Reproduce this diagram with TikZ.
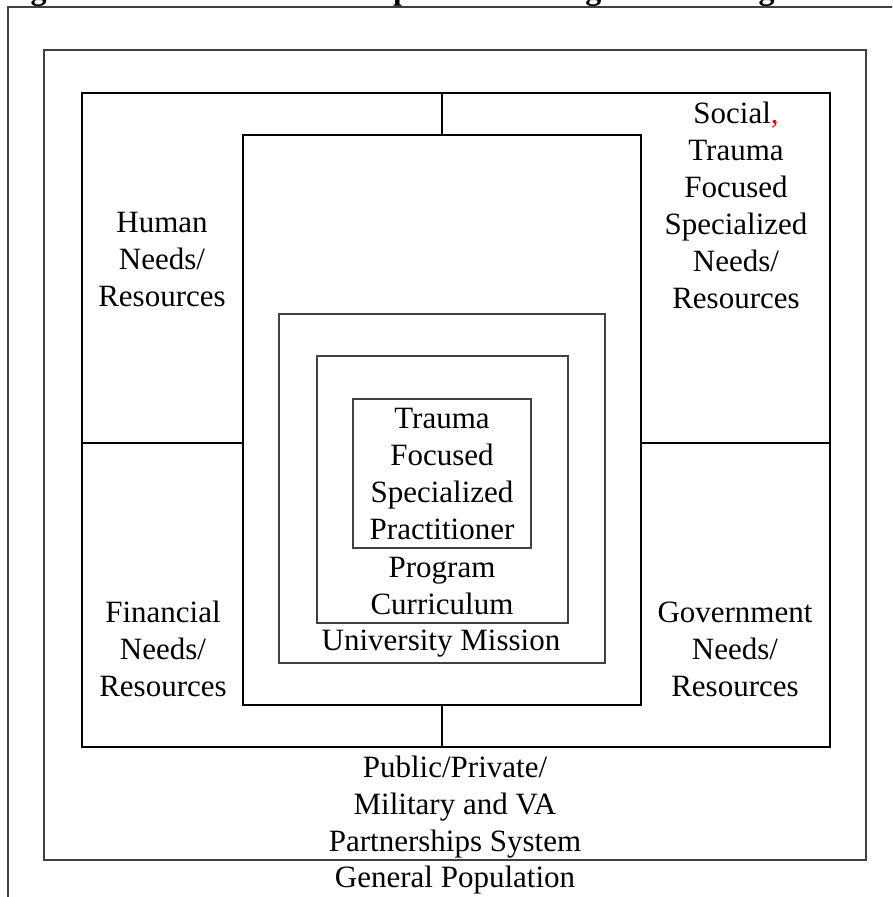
\documentclass[tikz,border=0pt]{standalone}
\usepackage{fontspec}
\setmainfont{Liberation Serif}
\begin{document}
\begin{tikzpicture}[x=1pt,y=-1pt,
  thinbox/.style={draw=black!75, line width=1.1pt, inner sep=0pt, outer sep=0pt},
  thickbox/.style={draw=black, line width=2.6pt, inner sep=0pt, outer sep=0pt},
  divider/.style={draw=black, line width=2.6pt},
  lbl/.style={font=\fontsize{31}{37}\selectfont, align=center, inner sep=0pt}]
\useasboundingbox (0,0) rectangle (892,897);
\clip (0,0) rectangle (892,897);
% title, cut off at the top edge
\node[anchor=base west, inner sep=0pt, font=\bfseries\fontsize{32}{37}\selectfont] (title) at (2,-1) {Figure 1: Trauma Focused Specialized Program Paradigm};
% boxes
\node[thinbox, minimum width=897pt, minimum height=903pt] (outer) at (456.5,458.5) {};
\node[thinbox, minimum width=822pt, minimum height=810pt] (partner) at (455,455) {};
\node[thickbox, minimum width=748pt, minimum height=654pt] (quad) at (456,420) {};
\node[thickbox, minimum width=398pt, minimum height=570pt] (univ) at (442,420) {};
\node[thinbox, minimum width=326pt, minimum height=349pt] (mission) at (442,488.5) {};
\node[thinbox, minimum width=251pt, minimum height=267pt] (program) at (442.5,489.5) {};
\node[thinbox, minimum width=178pt, minimum height=149pt] (trauma) at (442,473.5) {};
% quadrant dividers
\coordinate (midL) at (82,443);
\coordinate (midR) at (830,443);
\draw[divider] (univ.north |- quad.north) -- (univ.north);
\draw[divider] (univ.south) -- (univ.south |- quad.south);
\draw[divider] (midL) -- (midL -| univ.west);
\draw[divider] (midL -| univ.east) -- (midR);
% labels
\node[lbl] (human) at (162,259) {Human\\Needs/\\Resources};
\node[lbl] (social) at (736,205) {Social{\color{red},}\\Trauma\\Focused\\Specialized\\Needs/\\Resources};
\node[lbl] (financial) at (163,649) {Financial\\Needs/\\Resources};
\node[lbl] (government) at (735,649) {Government\\Needs/\\Resources};
\node[lbl] (tfsp) at (442,474) {Trauma\\Focused\\Specialized\\Practitioner};
\node[lbl] (curr) at (442,586) {Program\\Curriculum};
\node[lbl] (mis) at (441,644) {University Mission};
\node[lbl] (pps) at (455,807) {Public/Private/\\Military and VA\\Partnerships System};
\node[lbl] (gen) at (455,880) {General Population};
\end{tikzpicture}
\end{document}
